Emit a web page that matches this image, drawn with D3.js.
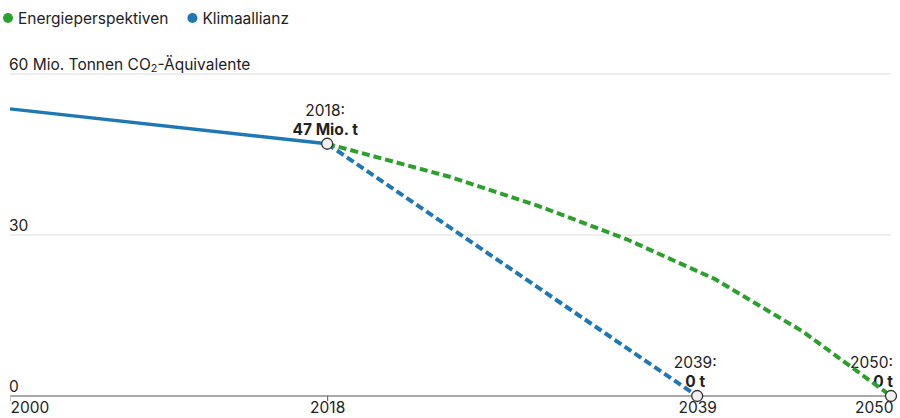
<!DOCTYPE html>
<html>
<head>
<meta charset="utf-8">
<script src="https://cdn.jsdelivr.net/npm/d3@7"></script>
<style>
  body { margin: 0; background: #fff; font-family: Inter, Roboto, "Noto Sans", sans-serif; }
  svg text { fill: #222; }
</style>
</head>
<body>
<svg id="chart" width="900" height="418"></svg>
<script>
// Emissions in Mio. Tonnen CO2-Äquivalente
const historyYears = [2000, 2018];
const historyValues = [53.5, 47];

const energieYears = [2018, 2025, 2030, 2035, 2040, 2045, 2050];
const energieValues = [47, 40.8, 35.4, 29.2, 21.8, 12, 0];

const klimaYears = [2018, 2039];
const klimaValues = [47, 0];

const xTicks = [2000, 2018, 2039, 2050];
const yTicks = [0, 30, 60];

const seriesNames = ["Energieperspektiven", "Klimaallianz"];
const seriesColors = ["#2ca02c", "#1f77b4"];

const annotations = [
  { year: 2018, value: 47, line1: "2018:", line2: "47 Mio. t", anchor: "middle" },
  { year: 2039, value: 0, line1: "2039:", line2: "0 t", anchor: "middle" },
  { year: 2050, value: 0, line1: "2050:", line2: "0 t", anchor: "end" }
];

const fontSize = 15.5;
const svg = d3.select("#chart");
const plotLeft = 10, plotRight = 891, plotTop = 74, plotBottom = 396;

const x = d3.scaleLinear().domain([2000, 2050]).range([plotLeft, plotRight]);
const y = d3.scaleLinear().domain([0, 60]).range([plotBottom, plotTop]);

// Legend
const legend = svg.append("g").attr("transform", "translate(8,18)");
let lx = 0;
seriesNames.forEach((name, i) => {
  const g = legend.append("g").attr("transform", `translate(${lx},0)`);
  g.append("circle").attr("r", 5).attr("cx", 0).attr("cy", 0).attr("fill", seriesColors[i]);
  const t = g.append("text").attr("x", 10).attr("y", 5.5).attr("font-size", fontSize).text(name);
  lx += 10 + t.node().getComputedTextLength() + 24;
});

// Gridlines and y labels
const grid = svg.append("g");
yTicks.forEach(v => {
  if (v > 0) {
    grid.append("line")
      .attr("x1", plotLeft).attr("x2", plotRight)
      .attr("y1", y(v)).attr("y2", y(v))
      .attr("stroke", "#dcdcdc").attr("stroke-width", 1);
  }
  const t = grid.append("text")
    .attr("x", plotLeft - 1).attr("y", y(v) - 4)
    .attr("font-size", fontSize);
  if (v === 60) {
    t.append("tspan").text("60 Mio. Tonnen CO");
    t.append("tspan").attr("font-size", fontSize * 0.7).attr("dy", 2).text("2");
    t.append("tspan").attr("dy", -2).text("-\u00C4quivalente");
  } else {
    t.text(String(v));
  }
});

// X axis
const xAxis = svg.append("g").attr("transform", `translate(0,${plotBottom})`)
  .call(d3.axisBottom(x).tickValues(xTicks).tickFormat(d3.format("d")).tickSize(5).tickPadding(1));
xAxis.select(".domain").attr("stroke", "#555").attr("d", `M${plotLeft},0H${plotRight}`);
xAxis.selectAll(".tick line").attr("stroke", (d, i) => i === 0 ? "#bbb" : "#555");
xAxis.selectAll(".tick text")
  .attr("font-size", fontSize).attr("font-family", "Inter, Roboto, sans-serif").attr("fill", "#222")
  .attr("text-anchor", (d, i) => i === 0 ? "start" : (i === xTicks.length - 1 ? "end" : "middle"))
  .attr("dx", (d, i) => i === xTicks.length - 1 ? 2 : 0);

const line = d3.line().x(d => x(d[0])).y(d => y(d[1]));

// Projection lines
function drawLine(years, values, color, dashed) {
  svg.append("path")
    .datum(years.map((yr, i) => [yr, values[i]]))
    .attr("d", line)
    .attr("fill", "none")
    .attr("stroke", color)
    .attr("stroke-width", dashed ? 4 : 3.5)
    .attr("stroke-dasharray", dashed ? "8,4" : null)
    .attr("stroke-linejoin", "round");
}

// Annotation texts
annotations.forEach(a => {
  const tx = a.anchor === "end" ? x(a.year) + 2 : x(a.year) - 2;
  const g = svg.append("g");
  g.append("text").attr("x", tx).attr("y", y(a.value) - 28)
    .attr("text-anchor", a.anchor).attr("font-size", fontSize).text(a.line1);
  g.append("text").attr("x", tx).attr("y", y(a.value) - 9)
    .attr("text-anchor", a.anchor).attr("font-size", fontSize).attr("font-weight", "bold").text(a.line2);
});

drawLine(klimaYears, klimaValues, seriesColors[1], true);
drawLine(energieYears, energieValues, seriesColors[0], true);
drawLine(historyYears, historyValues, seriesColors[1], false);

// Annotation markers
annotations.forEach(a => {
  svg.append("circle")
    .attr("cx", x(a.year)).attr("cy", y(a.value)).attr("r", 5.5)
    .attr("fill", "#f0f0f0").attr("stroke", "#333").attr("stroke-width", 1.3);
});
</script>
</body>
</html>
